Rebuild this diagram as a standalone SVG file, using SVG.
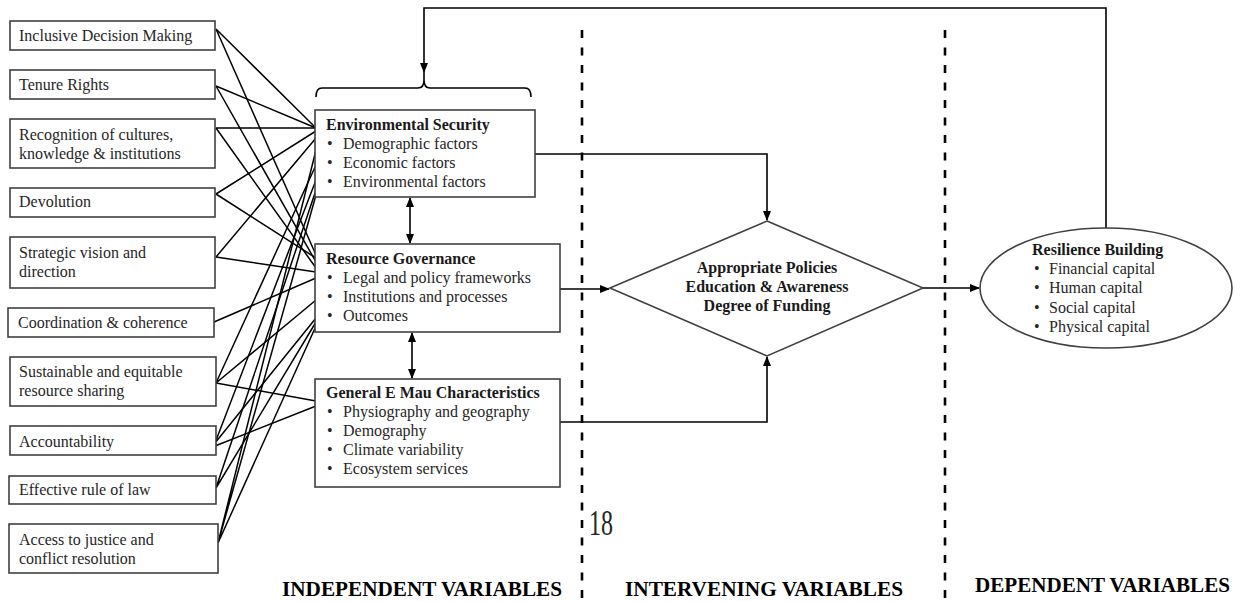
<svg xmlns="http://www.w3.org/2000/svg" width="1245" height="602" viewBox="0 0 1245 602">
<defs>
<marker id="ah" markerWidth="10" markerHeight="8" refX="9" refY="4" orient="auto-start-reverse" markerUnits="userSpaceOnUse"><path d="M0,0 L10,4 L0,8 z" fill="#000"/></marker>
</defs>
<style>
.box{fill:#fff;stroke:#404040;stroke-width:1.6}
.t{font-family:'Liberation Serif','Times New Roman',serif;font-size:16px;fill:#262626}
.b{font-weight:bold;fill:#1a1a1a}
.ln{stroke:#000;stroke-width:1.6;fill:none}
.web{stroke:#000;stroke-width:1.5;fill:none}
.dash{stroke:#000;stroke-width:2.6;stroke-dasharray:8 9.5;fill:none}
.lab{font-family:'Liberation Serif','Times New Roman',serif;font-size:22px;font-weight:bold;fill:#000}
</style>
<rect width="1245" height="602" fill="#fff"/>

<g id="connectors">
<g id="web">
<path class="web" d="M216,29 L316,128 M216,29 L316,255"/>
<path class="web" d="M216,86 L316,128 M216,86 L316,262"/>
<path class="web" d="M216,128 L316,128 M216,128 L316,268"/>
<path class="web" d="M216,194 L316,131 M216,194 L316,258"/>
<path class="web" d="M216,257 L316,138 M216,257 L316,272"/>
<path class="web" d="M214,322 L316,278"/>
<path class="web" d="M216,383 L316,165 M216,383 L316,300 M216,383 L316,401"/>
<path class="web" d="M215,443 L316,180 M215,443 L316,318 M215,446 L316,406"/>
<path class="web" d="M216,488 L316,190 M216,488 L316,322"/>
<path class="web" d="M218,543 L316,150 M218,543 L316,195 M218,543 L316,326"/>
</g>
<line class="ln" x1="410" y1="198" x2="410" y2="243" marker-start="url(#ah)" marker-end="url(#ah)"/>
<line class="ln" x1="412" y1="333" x2="412" y2="378" marker-start="url(#ah)" marker-end="url(#ah)"/>
<path class="ln" d="M535,154 H767 V220" marker-end="url(#ah)"/>
<path class="ln" d="M560,289 H609" marker-end="url(#ah)"/>
<path class="ln" d="M560,422 H767 V357" marker-end="url(#ah)"/>
<path class="ln" d="M923,288 H979" marker-end="url(#ah)"/>
<path class="ln" d="M1106,228 V8 H424 V72" marker-end="url(#ah)"/>
<path class="ln" d="M424,72 V80"/>
<path class="ln" d="M316,97 Q316,88 322,88 L418,88 Q424,88 424,80 Q424,88 430,88 L525,88 Q531,88 531,97"/>
</g>

<g id="dividers">
<line class="dash" x1="582" y1="30" x2="582" y2="602"/>
<line class="dash" x1="945" y1="30" x2="945" y2="602"/>
</g>

<g id="n1"><rect class="box" x="10" y="21" width="205" height="29"/><text class="t" x="19" y="41">Inclusive Decision Making</text></g>
<g id="n2"><rect class="box" x="10" y="70" width="205" height="29"/><text class="t" x="19" y="90">Tenure Rights</text></g>
<g id="n3"><rect class="box" x="10" y="119" width="205" height="49"/><text class="t" x="19" y="140">Recognition of cultures,</text><text class="t" x="19" y="159">knowledge &amp; institutions</text></g>
<g id="n4"><rect class="box" x="10" y="188" width="205" height="29"/><text class="t" x="19" y="207">Devolution</text></g>
<g id="n5"><rect class="box" x="10" y="237" width="205" height="51"/><text class="t" x="19" y="258">Strategic vision and</text><text class="t" x="19" y="277">direction</text></g>
<g id="n6"><rect class="box" x="8" y="308" width="206" height="29"/><text class="t" x="18" y="328">Coordination &amp; coherence</text></g>
<g id="n7"><rect class="box" x="10" y="357" width="206" height="49"/><text class="t" x="19" y="377">Sustainable and equitable</text><text class="t" x="19" y="396">resource sharing</text></g>
<g id="n8"><rect class="box" x="10" y="426" width="206" height="29"/><text class="t" x="19" y="447">Accountability</text></g>
<g id="n9"><rect class="box" x="9" y="476" width="207" height="28"/><text class="t" x="19" y="495">Effective rule of law</text></g>
<g id="n10"><rect class="box" x="9" y="524" width="209" height="49"/><text class="t" x="19" y="545">Access to justice and</text><text class="t" x="19" y="564">conflict resolution</text></g>

<g id="env">
<rect class="box" x="315" y="110" width="220" height="87"/>
<text class="t b" x="326" y="130">Environmental Security</text>
<text class="t" x="327" y="149">•</text><text class="t" x="343" y="149">Demographic factors</text>
<text class="t" x="327" y="168">•</text><text class="t" x="343" y="168">Economic factors</text>
<text class="t" x="327" y="187">•</text><text class="t" x="343" y="187">Environmental factors</text>
</g>
<g id="rg">
<rect class="box" x="315" y="244" width="245" height="88"/>
<text class="t b" x="326" y="264">Resource Governance</text>
<text class="t" x="327" y="283">•</text><text class="t" x="343" y="283">Legal and policy frameworks</text>
<text class="t" x="327" y="302">•</text><text class="t" x="343" y="302">Institutions and processes</text>
<text class="t" x="327" y="321">•</text><text class="t" x="343" y="321">Outcomes</text>
</g>
<g id="gen">
<rect class="box" x="315" y="379" width="245" height="108"/>
<text class="t b" x="326" y="398">General E Mau Characteristics</text>
<text class="t" x="327" y="417">•</text><text class="t" x="343" y="417">Physiography and geography</text>
<text class="t" x="327" y="436">•</text><text class="t" x="343" y="436">Demography</text>
<text class="t" x="327" y="455">•</text><text class="t" x="343" y="455">Climate variability</text>
<text class="t" x="327" y="474">•</text><text class="t" x="343" y="474">Ecosystem services</text>
</g>
<g id="diamond">
<polygon class="box" points="767,221 923,288 767,356 610,288"/>
<text class="t b" x="767" y="273" text-anchor="middle">Appropriate Policies</text>
<text class="t b" x="767" y="292" text-anchor="middle">Education &amp; Awareness</text>
<text class="t b" x="767" y="311" text-anchor="middle">Degree of Funding</text>
</g>
<g id="resilience">
<ellipse class="box" cx="1106" cy="288" rx="126" ry="60"/>
<text class="t b" x="1032" y="255">Resilience Building</text>
<text class="t" x="1034" y="274">•</text><text class="t" x="1049" y="274">Financial capital</text>
<text class="t" x="1034" y="293">•</text><text class="t" x="1049" y="293">Human capital</text>
<text class="t" x="1034" y="313">•</text><text class="t" x="1049" y="313">Social capital</text>
<text class="t" x="1034" y="332">•</text><text class="t" x="1049" y="332">Physical capital</text>
</g>

<text class="t" x="589" y="535" style="font-size:36px" textLength="24" lengthAdjust="spacingAndGlyphs">18</text>
<text class="lab" x="282" y="596" textLength="280" lengthAdjust="spacingAndGlyphs">INDEPENDENT VARIABLES</text>
<text class="lab" x="625" y="596" textLength="278" lengthAdjust="spacingAndGlyphs">INTERVENING VARIABLES</text>
<text class="lab" x="975" y="592" textLength="255" lengthAdjust="spacingAndGlyphs">DEPENDENT VARIABLES</text>
</svg>
